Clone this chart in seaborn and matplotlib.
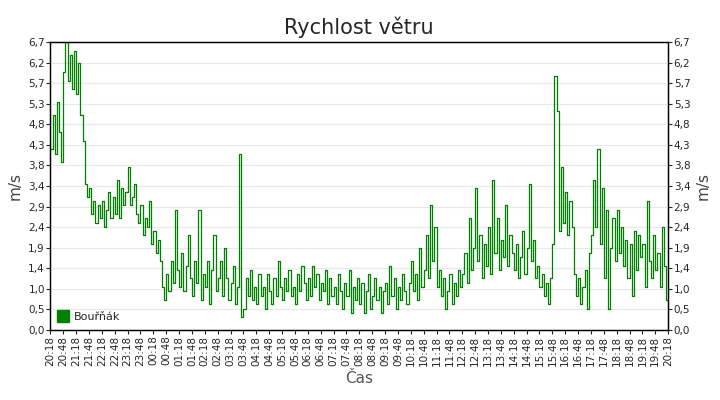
import numpy as np
import pandas as pd
import seaborn as sns
import matplotlib.pyplot as plt
from matplotlib.lines import Line2D

# 5-minute samples from 20:18 to 20:18 next day
speed = [
    4.2, 5.0, 4.1, 5.3, 4.6, 3.9, 6.0, 6.7, 5.8, 6.4, 5.6, 6.5,   # 20:18
    5.5, 6.2, 5.0, 4.4, 3.4, 3.1, 3.3, 2.7, 3.0, 2.5, 2.9, 2.6,   # 21:18
    3.0, 2.4, 2.8, 3.2, 2.6, 3.1, 2.7, 3.5, 2.6, 3.3, 2.9, 3.2,   # 22:18
    3.8, 2.9, 3.1, 3.4, 2.7, 2.5, 2.9, 2.2, 2.6, 2.4, 3.0, 2.0,   # 23:18
    2.3, 1.8, 2.1, 1.6, 1.0, 0.7, 1.3, 0.9, 1.6, 1.1, 2.8, 1.4,   # 00:18
    1.0, 1.8, 0.9, 1.5, 2.2, 1.2, 0.8, 1.6, 1.1, 2.8, 0.7, 1.3,   # 01:18
    1.0, 1.6, 0.6, 1.4, 2.2, 0.9, 1.2, 1.6, 0.8, 1.9, 1.2, 0.7,   # 02:18
    1.1, 1.5, 0.6, 1.0, 4.1, 0.3, 0.5, 1.2, 0.8, 1.4, 0.7, 1.0,   # 03:18
    0.6, 1.3, 0.8, 1.0, 0.5, 1.3, 0.9, 0.6, 1.2, 0.8, 1.6, 1.0,   # 04:18
    0.7, 1.2, 0.9, 1.4, 0.8, 1.0, 0.6, 1.3, 0.9, 1.5, 1.1, 0.7,   # 05:18
    1.2, 0.8, 1.5, 1.0, 1.3, 0.7, 1.1, 0.9, 1.4, 0.6, 1.2, 0.8,   # 06:18
    1.0, 0.6, 1.3, 0.9, 0.5, 1.1, 0.8, 1.4, 0.4, 1.0, 0.7, 1.2,   # 07:18
    0.6, 1.1, 0.4, 0.9, 1.3, 0.5, 0.8, 1.2, 0.7, 1.0, 0.4, 0.9,   # 08:18
    1.1, 0.6, 1.5, 0.8, 1.2, 0.5, 1.0, 0.7, 1.3, 0.9, 0.6, 1.1,   # 09:18
    1.6, 0.9, 1.3, 0.7, 1.9, 1.0, 1.4, 2.2, 1.2, 2.9, 1.6, 2.4,   # 10:18
    1.0, 1.4, 0.8, 1.2, 0.5, 0.9, 1.3, 0.6, 1.1, 0.8, 1.4, 1.0,   # 11:18
    1.3, 1.8, 1.1, 2.6, 1.4, 1.9, 3.3, 1.6, 2.2, 1.2, 2.0, 1.5,   # 12:18
    2.4, 1.3, 3.5, 1.8, 2.6, 1.4, 2.1, 1.7, 2.9, 1.5, 2.2, 1.8,   # 13:18
    1.4, 2.0, 1.2, 1.7, 2.3, 1.3, 1.9, 3.4, 1.6, 2.1, 1.2, 1.5,   # 14:18
    1.0, 1.3, 0.8, 1.1, 0.6, 1.2, 2.0, 5.9, 5.1, 2.3, 3.8, 2.5,   # 15:18
    3.2, 2.2, 3.0, 2.4, 1.3, 0.8, 1.2, 0.6, 1.0, 1.4, 0.5, 1.8,   # 16:18
    2.2, 3.5, 2.4, 4.2, 2.0, 3.3, 1.2, 2.8, 0.5, 1.9, 2.6, 1.6,   # 17:18
    2.8, 1.8, 2.4, 1.5, 2.1, 1.2, 2.0, 0.8, 2.3, 1.4, 2.2, 1.7,   # 18:18
    2.0, 1.0, 3.0, 1.6, 1.2, 2.2, 1.4, 1.8, 1.0, 2.4, 1.5, 0.7,   # 19:18
    0.7,
]
series_name = "Bouřňák"
start = pd.Timestamp("2023-01-01 20:18")
times = pd.date_range(start, periods=len(speed), freq="5min")
df = pd.DataFrame({"time": times, "speed": speed})

tick_times = pd.date_range(start, periods=49, freq="30min")
tick_labels = [t.strftime("%H:%M") for t in tick_times]
ymax = 6.7
y_ticks = np.linspace(0, ymax, 15)
y_labels = [f"{v:.1f}".replace(".", ",") for v in y_ticks]

sns.set_style("white")
fig, ax = plt.subplots(figsize=(7.2, 4.0), dpi=100)
sns.lineplot(data=df, x="time", y="speed", drawstyle="steps-post", color="#008000",
             linewidth=0.9, ax=ax, legend=False)
ax.set_xlim(tick_times[0], tick_times[-1])
ax.set_ylim(0, ymax)
ax.set_xticks(tick_times)
ax.set_xticklabels(tick_labels, rotation=90, fontsize=7.5)
ax.set_yticks(y_ticks)
ax.set_yticklabels(y_labels, fontsize=7.5)
ax.yaxis.grid(True, color="#e8e8e8", linewidth=0.8)
ax.tick_params(axis="both", direction="out", length=3, width=0.8, pad=1, left=True, bottom=True)
ax2 = ax.twinx()
ax2.set_ylim(0, ymax)
ax2.set_yticks(y_ticks)
ax2.set_yticklabels(y_labels, fontsize=7.5)
ax2.tick_params(axis="y", direction="out", length=3, width=0.8, pad=1, right=True)
ax2.set_ylabel("m/s", fontsize=11, color="#444444")
for a in (ax, ax2):
    for s in a.spines.values():
        s.set_color("black")
        s.set_linewidth(0.9)
ax.set_title("Rychlost větru", fontsize=15)
ax.set_xlabel("Čas", fontsize=11, color="#555555")
ax.set_ylabel("m/s", fontsize=11, color="#444444")
handle = Line2D([], [], linestyle="none", marker="s", markersize=8, color="#008000")
ax2.legend([handle], [series_name], loc="lower left", frameon=False, fontsize=8,
           handlelength=0.8, borderaxespad=0.3, handletextpad=0.6)
plt.subplots_adjust(left=0.07, right=0.928, top=0.895, bottom=0.175)
fig.savefig("out.png", dpi=100)
